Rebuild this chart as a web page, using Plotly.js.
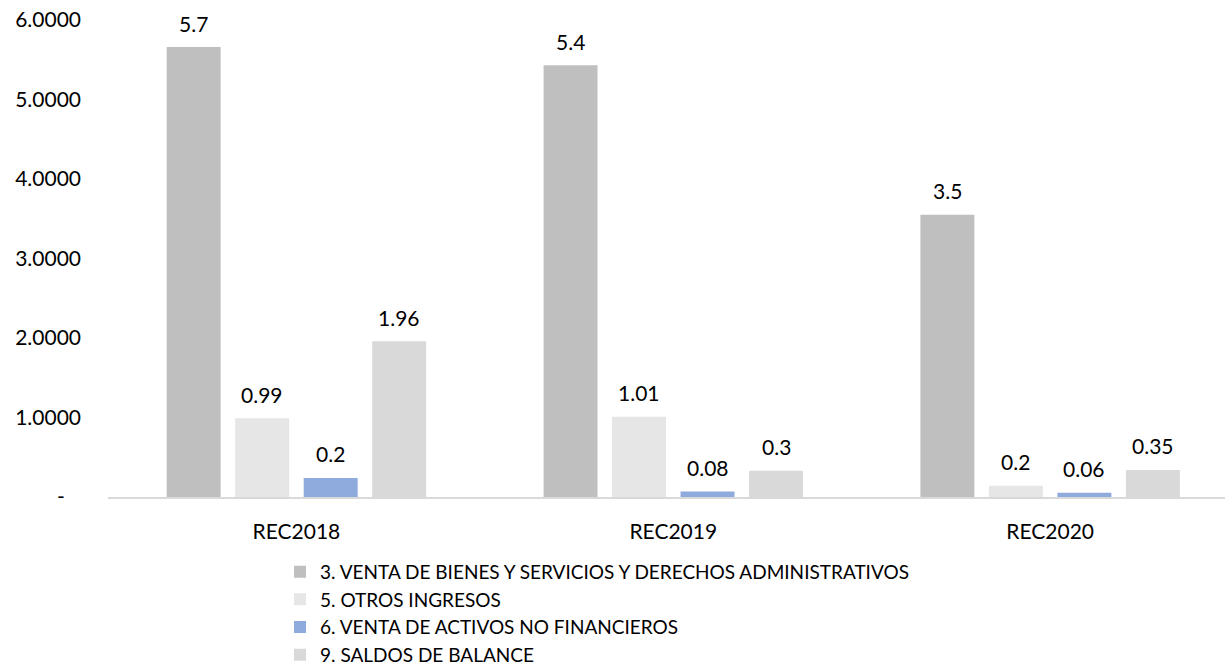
<!DOCTYPE html>
<html>
<head>
<meta charset="utf-8">
<script src="https://cdn.plot.ly/plotly-3.0.1.min.js"></script>
<style>html,body{margin:0;padding:0;background:#fff;}#chart{width:1225px;height:669px;}</style>
</head>
<body>
<div id="chart"></div>
<script>
const categories = ["REC2018", "REC2019", "REC2020"];
const seriesNames = [
  "3. VENTA DE BIENES Y SERVICIOS Y DERECHOS ADMINISTRATIVOS",
  "5. OTROS INGRESOS",
  "6. VENTA DE ACTIVOS NO FINANCIEROS",
  "9. SALDOS DE BALANCE"
];
const ventaBienes = [5.66, 5.43, 3.55];
const otrosIngresos = [0.99, 1.01, 0.14];
const ventaActivos = [0.24, 0.07, 0.055];
const saldosBalance = [1.96, 0.33, 0.34];
const ventaBienesLabels = ["5.7", "5.4", "3.5"];
const otrosIngresosLabels = ["0.99", "1.01", "0.2"];
const ventaActivosLabels = ["0.2", "0.08", "0.06"];
const saldosBalanceLabels = ["1.96", "0.3", "0.35"];
const yTickVals = [0, 1, 2, 3, 4, 5, 6];
const yTickText = ["-\u00a0\u00a0\u00a0", "1.0000", "2.0000", "3.0000", "4.0000", "5.0000", "6.0000"];

const colors = ["#BFBFBF", "#E7E6E6", "#8FAADC", "#D9D9D9"];
const values = [ventaBienes, otrosIngresos, ventaActivos, saldosBalance];
const labels = [ventaBienesLabels, otrosIngresosLabels, ventaActivosLabels, saldosBalanceLabels];

const FONT = "Lato, 'Open Sans', sans-serif";
const bargap = 0.273, bargroupgap = 0.212;
const slot = (1 - bargap) / 4;

const traces = values.map((v, i) => ({
  type: "bar",
  name: seriesNames[i],
  x: categories,
  y: v,
  marker: {color: colors[i], line: {width: 0}},
  hoverinfo: "none"
}));

const annotations = [];
values.forEach((v, i) => {
  v.forEach((val, j) => {
    annotations.push({
      x: j + (i - 1.5) * slot,
      y: val,
      xref: "x", yref: "y",
      text: labels[i][j],
      showarrow: false,
      yanchor: "middle",
      yshift: 24,
      font: {family: FONT, size: 21, color: "#000"}
    });
  });
});

const layout = {
  width: 1225, height: 669,
  margin: {l: 108, r: 0, t: 20, b: 172, autoexpand: false},
  paper_bgcolor: "#fff", plot_bgcolor: "#fff",
  barmode: "group",
  bargap: bargap, bargroupgap: bargroupgap,
  font: {family: FONT, size: 21, color: "#000"},
  showlegend: true,
  legend: {
    orientation: "v", x: 0.154, xanchor: "left", y: -0.117, yanchor: "top",
    font: {family: FONT, size: 19, color: "#000"},
    tracegroupgap: 0, itemclick: false, bgcolor: "rgba(0,0,0,0)"
  },
  xaxis: {
    type: "category", range: [-0.5, 2.464], showgrid: false, zeroline: false,
    showline: true, linecolor: "#D9D9D9", linewidth: 1.5, ticks: "",
    ticklabelstandoff: 15, tickfont: {family: FONT, size: 21, color: "#000"}
  },
  yaxis: {
    range: [0, 6], showgrid: false, zeroline: false, showline: false, ticks: "",
    tickvals: yTickVals, ticktext: yTickText, ticklabelstandoff: 26,
    tickfont: {family: FONT, size: 21, color: "#000"}
  },
  annotations: annotations
};

Plotly.newPlot("chart", traces, layout, {displayModeBar: false, staticPlot: true});
</script>
</body>
</html>
